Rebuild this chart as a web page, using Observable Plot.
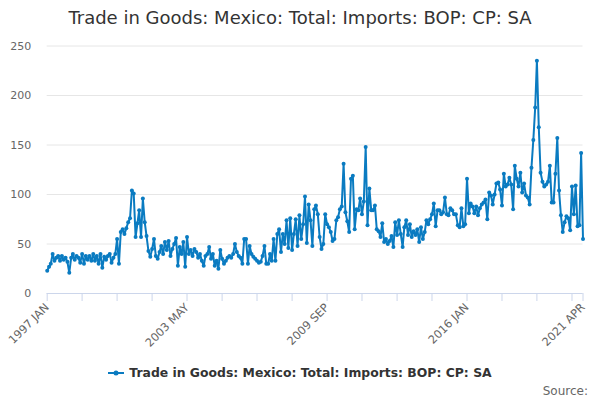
<!DOCTYPE html>
<html>
<head>
<meta charset="utf-8">
<script src="https://cdn.jsdelivr.net/npm/d3@7"></script>
<script src="https://cdn.jsdelivr.net/npm/@observablehq/plot@0.6"></script>
<style>
  body { margin: 0; width: 600px; height: 400px; position: relative; overflow: hidden; background: #fff; font-family: "DejaVu Sans", sans-serif; }
  #title { position: absolute; top: 0; left: 0; width: 600px; height: 36px; line-height: 36px; text-align: center; font-size: 18px; color: #333; }
  #chart { position: absolute; top: 36px; left: 0; }
  #legend { position: absolute; top: 365px; left: 0; width: 600px; text-align: center; font-size: 12.4px; font-weight: bold; color: #333; line-height: 16px; }
  #legend svg { vertical-align: middle; margin-right: 5px; position: relative; top: -1px; }
  #source { position: absolute; top: 383px; right: 12px; font-size: 12px; color: #666; line-height: 16px; }
</style>
</head>
<body>
<div id="title">Trade in Goods: Mexico: Total: Imports: BOP: CP: SA</div>
<div id="chart"></div>
<div id="legend"></div>
<div id="source">Source:</div>
<script>
const seriesName = "Trade in Goods: Mexico: Total: Imports: BOP: CP: SA";
const startYear = 1997;
// Monthly values, one array per year
const v1997 = [23, 27, 30, 40, 33, 36, 38, 33, 38, 34, 36, 32];
const v1998 = [21, 36, 40, 34, 38, 36, 31, 40, 30, 38, 34, 38];
const v1999 = [33, 40, 33, 38, 30, 40, 26, 37, 34, 38, 40, 31];
const v2000 = [36, 40, 55, 30, 62, 65, 60, 66, 72, 76, 104, 101];
const v2001 = [57, 71, 84, 57, 96, 72, 58, 43, 37, 45, 55, 38];
const v2002 = [35, 42, 48, 40, 52, 44, 53, 38, 45, 50, 56, 28];
const v2003 = [47, 40, 52, 27, 57, 40, 44, 38, 45, 42, 36, 40];
const v2004 = [33, 28, 38, 40, 47, 35, 40, 28, 33, 25, 44, 35];
const v2005 = [30, 33, 36, 38, 36, 40, 50, 42, 38, 36, 30, 55];
const v2006 = [55, 30, 48, 40, 37, 35, 33, 31, 32, 38, 48, 30];
const v2007 = [30, 40, 33, 55, 33, 60, 65, 42, 60, 50, 74, 46];
const v2008 = [76, 44, 60, 75, 48, 79, 55, 70, 98, 51, 90, 74];
const v2009 = [48, 85, 89, 80, 57, 45, 50, 80, 70, 67, 62, 53];
const v2010 = [55, 74, 77, 85, 88, 131, 82, 73, 62, 116, 119, 65];
const v2011 = [85, 84, 96, 80, 93, 148, 69, 106, 84, 84, 89, 65];
const v2012 = [63, 57, 71, 52, 55, 50, 53, 58, 47, 72, 59, 74];
const v2013 = [60, 47, 67, 74, 59, 70, 57, 63, 59, 65, 52, 67];
const v2014 = [55, 62, 74, 70, 75, 80, 91, 68, 84, 84, 80, 82];
const v2015 = [97, 80, 79, 86, 84, 80, 80, 69, 67, 86, 68, 70];
const v2016 = [116, 81, 91, 88, 81, 88, 79, 86, 90, 92, 95, 75];
const v2017 = [102, 99, 90, 100, 111, 112, 105, 89, 121, 108, 110, 117];
const v2018 = [110, 85, 129, 116, 108, 122, 102, 111, 99, 97, 90, 127];
const v2019 = [155, 188, 235, 168, 122, 113, 108, 110, 113, 129, 92, 92];
const v2020 = [121, 157, 104, 79, 62, 72, 78, 76, 64, 108, 80, 109];
const v2021 = [68, 69, 142, 55];

const yTicks = [0, 50, 100, 150, 200, 250];
const monthNames = ["JAN","FEB","MAR","APR","MAY","JUN","JUL","AUG","SEP","OCT","NOV","DEC"];
const xTickStepMonths = 19;
const xLabelEvery = 4;

const values = [].concat(v1997, v1998, v1999, v2000, v2001, v2002, v2003, v2004, v2005, v2006,
  v2007, v2008, v2009, v2010, v2011, v2012, v2013, v2014, v2015, v2016, v2017, v2018, v2019, v2020, v2021);
const data = values.map((v, i) => ({ date: new Date(Date.UTC(startYear, i, 1)), value: v }));
const n = values.length;

const tickDates = [];
const labelMap = new Map();
for (let k = 0; k * xTickStepMonths < n; k++) {
  const d = new Date(Date.UTC(startYear, k * xTickStepMonths, 1));
  tickDates.push(d);
  if (k % xLabelEvery === 0) labelMap.set(+d, d.getUTCFullYear() + " " + monthNames[d.getUTCMonth()]);
}
const lastDate = data[n - 1].date;
tickDates.push(lastDate);
labelMap.set(+lastDate, lastDate.getUTCFullYear() + " " + monthNames[lastDate.getUTCMonth()]);

const color = "#0a7bc1";

const chart = Plot.plot({
  width: 600,
  height: 320,
  marginTop: 9.5,
  marginBottom: 63,
  marginLeft: 46.7,
  marginRight: 17.5,
  style: { fontFamily: "DejaVu Sans", fontSize: "11px", color: "#666", background: "transparent", overflow: "visible" },
  x: { type: "utc", domain: [data[0].date, lastDate] },
  y: { domain: [0, 250] },
  marks: [
    Plot.gridY(yTicks, { stroke: "#e6e6e6", strokeOpacity: 1 }),
    Plot.axisY(yTicks, { tickSize: 0, tickPadding: 16, fill: "#666", fontSize: 11, label: null, tickFormat: d => String(d) }),
    Plot.ruleY([0], { stroke: "#ccd6eb" }),
    Plot.axisX(tickDates, { tickSize: 8, stroke: "#ccd6eb", strokeOpacity: 1, tickRotate: -45, tickPadding: 4, fill: "#666", fontSize: 11.3, label: null, tickFormat: d => labelMap.get(+d) || "" }),
    Plot.line(data, { x: "date", y: "value", stroke: color, strokeWidth: 2 }),
    Plot.dot(data, { x: "date", y: "value", r: 2, fill: color })
  ]
});
document.getElementById("chart").appendChild(chart);

document.getElementById("legend").innerHTML =
  '<svg width="16" height="12"><line x1="0" y1="6" x2="16" y2="6" stroke="' + color + '" stroke-width="2"/><circle cx="8" cy="6" r="2.5" fill="' + color + '"/></svg>' + seriesName;
</script>
</body>
</html>
